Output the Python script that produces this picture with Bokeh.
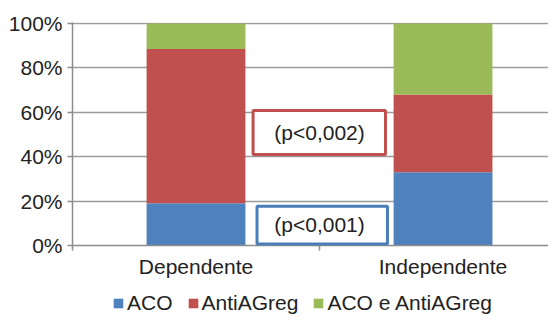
from bokeh.plotting import figure
from bokeh.layouts import column
from bokeh.models import (ColumnDataSource, Range1d, FixedTicker, NumeralTickFormatter,
                          BoxAnnotation, Label, Legend)
from bokeh.embed import file_html
from bokeh.resources import INLINE

categories = ["Dependente", "Independente"]
series = ["ACO", "AntiAGreg", "ACO e AntiAGreg"]
aco = [0.19, 0.33]
antiagreg = [0.695, 0.35]
ambos = [0.115, 0.32]
y_ticks = [0.0, 0.2, 0.4, 0.6, 0.8, 1.0]
p_labels = ["(p<0,002)", "(p<0,001)"]

colors = ["#4F81BD", "#C0504D", "#9BBB59"]
FONT = "Liberation Sans"

xpos = [i + 0.5 for i in range(len(categories))]
source = ColumnDataSource(dict(x=xpos, ACO=aco, AntiAGreg=antiagreg, Ambos=ambos))

p = figure(width=548, height=290, output_backend="svg", toolbar_location=None,
           x_range=Range1d(0, 1.927), y_range=Range1d(0, 1.004),
           min_border_left=72, min_border_top=22, min_border_right=0, min_border_bottom=45)
p.outline_line_color = None
p.background_fill_color = "white"

renderers = p.vbar_stack(["ACO", "AntiAGreg", "Ambos"], x="x", width=0.4, source=source,
                         color=colors, line_color=None)

# y axis
p.yaxis.ticker = FixedTicker(ticks=y_ticks)
p.yaxis.formatter = NumeralTickFormatter(format="0%")
p.yaxis.major_label_text_font = FONT
p.yaxis.major_label_text_font_size = "21px"
p.yaxis.major_label_text_color = "#222222"
p.yaxis.axis_line_color = "#8c8c8c"
p.yaxis.axis_line_width = 1.5
p.yaxis.major_tick_line_color = "#8c8c8c"
p.yaxis.major_tick_line_width = 1.5
p.yaxis.major_tick_out = 5
p.yaxis.major_tick_in = 0
p.yaxis.minor_tick_line_color = None
p.yaxis.major_label_standoff = 5

# x axis
p.xaxis.ticker = FixedTicker(ticks=xpos, minor_ticks=[0, 1, 2])
p.xaxis.major_label_overrides = {x: c for x, c in zip(xpos, categories)}
p.xaxis.major_label_text_font = FONT
p.xaxis.major_label_text_font_size = "21px"
p.xaxis.major_label_text_color = "#222222"
p.xaxis.axis_line_color = "#8c8c8c"
p.xaxis.axis_line_width = 1.5
p.xaxis.major_tick_line_color = None
p.xaxis.minor_tick_line_color = "#8c8c8c"
p.xaxis.minor_tick_line_width = 1.5
p.xaxis.minor_tick_out = 5
p.xaxis.minor_tick_in = 0
p.xaxis.major_label_standoff = 3

p.xgrid.grid_line_color = None
p.ygrid.ticker = FixedTicker(ticks=y_ticks)
p.ygrid.grid_line_color = "#9a9a9a"
p.ygrid.grid_line_width = 1.5

# p-value boxes
red_box = BoxAnnotation(left=0.731, right=1.267, bottom=0.41, top=0.608,
                        fill_color="white", fill_alpha=1.0,
                        line_color="#C0504D", line_width=3, line_alpha=1.0)
blue_box = BoxAnnotation(left=0.747, right=1.275, bottom=0.007, top=0.177,
                         fill_color="white", fill_alpha=1.0,
                         line_color="#4A7EBB", line_width=3, line_alpha=1.0)
p.add_layout(red_box)
p.add_layout(blue_box)
p.add_layout(Label(x=1.0, y=0.507, text=p_labels[0], text_align="center",
                   text_baseline="middle", text_font=FONT, text_font_size="21px",
                   text_color="#222222"))
p.add_layout(Label(x=1.0, y=0.094, text=p_labels[1], text_align="center",
                   text_baseline="middle", text_font=FONT, text_font_size="21px",
                   text_color="#222222"))

# legend strip below the chart (same data; its y range keeps the bars out of view)
lg = figure(width=548, height=25, output_backend="svg", toolbar_location=None,
            x_axis_location=None, y_axis_location=None, min_border=0,
            x_range=Range1d(0, 1.927), y_range=Range1d(5, 6))
lg.outline_line_color = None
lg.grid.grid_line_color = None
legend_rs = lg.vbar_stack(["ACO", "AntiAGreg", "Ambos"], x="x", width=0.4, source=source,
                          color=colors, line_color=None)
legend = Legend(items=[(s, [r]) for s, r in zip(series, legend_rs)],
                location=(40, 0), orientation="horizontal",
                glyph_width=12, glyph_height=12, label_standoff=3, spacing=14,
                padding=0, margin=0, border_line_color=None, background_fill_alpha=0,
                label_text_font=FONT, label_text_font_size="21px",
                label_text_color="#222222")
lg.add_layout(legend)

open("out.html", "w").write(file_html(column(p, lg, spacing=0), INLINE))
